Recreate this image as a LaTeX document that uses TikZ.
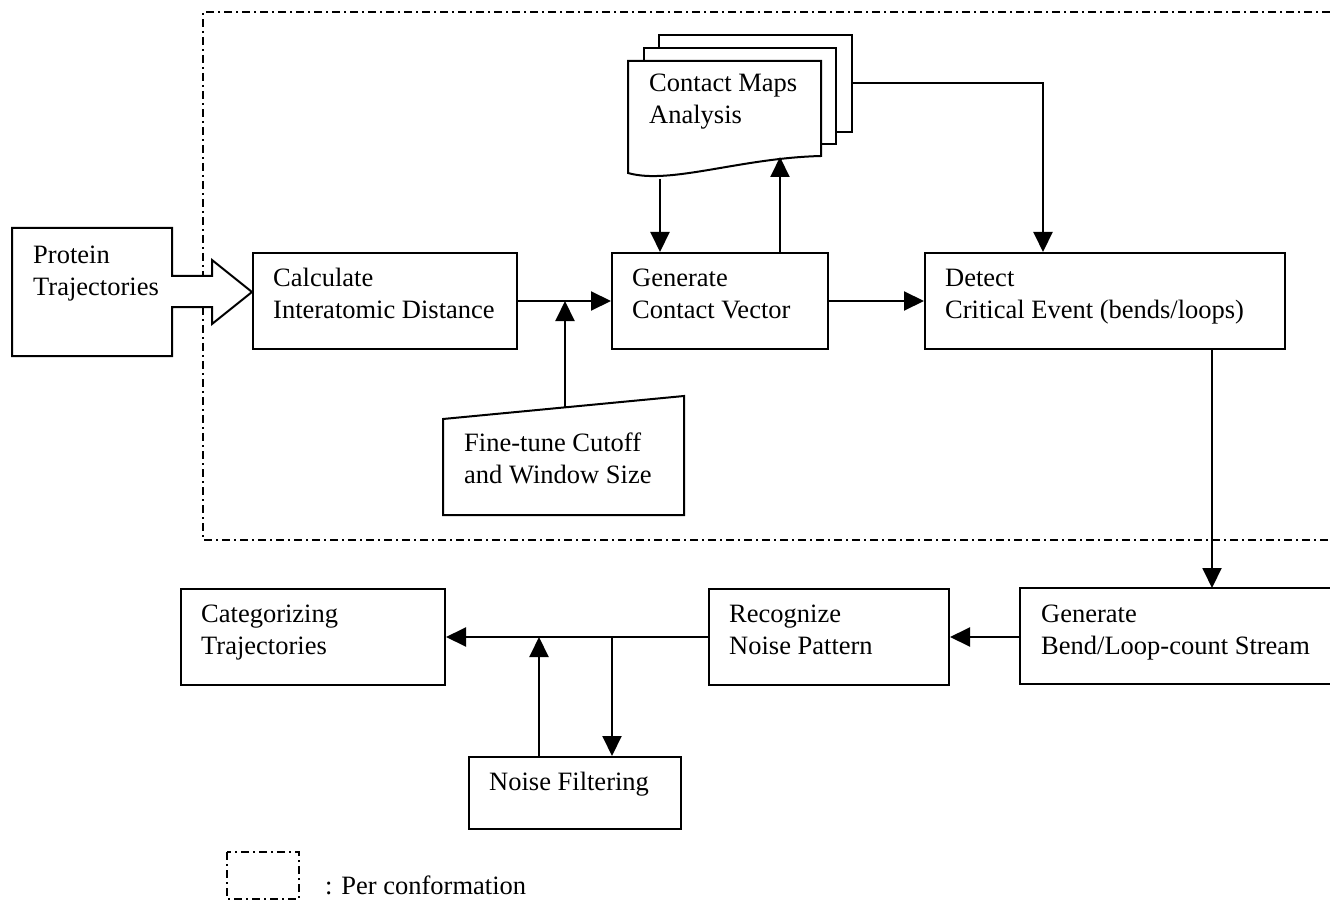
\documentclass[tikz,border=0pt]{standalone}
\usepackage{fontspec}
\setmainfont{Liberation Serif}
\usetikzlibrary{arrows.meta}
\begin{document}
\begin{tikzpicture}[x=1pt,y=-1pt,
  ln/.style={line width=2pt, line join=miter},
  blk/.style={draw, line width=2pt, inner sep=0pt, anchor=north west},
  txt/.style={anchor=base west, inner sep=0pt, align=left, font=\fontsize{26.5}{32}\selectfont},
  txtb/.style={txt, yshift=-32pt},
  arr/.style={line width=2pt, -{Triangle[length=20pt,width=19pt]}},
  dd/.style={line width=2pt, dash pattern=on 8pt off 4pt on 2pt off 4pt}]
\useasboundingbox (0,0) rectangle (1330,901);

% per-conformation region (open to the right)
\draw[dd] (1330,12) -- (203,12) -- (203,540) -- (1330,540);

% input arrow
\draw[ln, fill=white] (12,228) -- (172,228) -- (172,276) -- (212,276) -- (212,260) -- (252,292)
  -- (212,324) -- (212,307) -- (172,307) -- (172,356) -- (12,356) -- cycle;
\node[txtb] (prot) at (33,263) {Protein\\Trajectories};

% process boxes
\node[blk, minimum width=264pt, minimum height=96pt] (calc) at (252,252) {};
\node[txtb] (calct) at ([shift={(21,34)}]calc.north west) {Calculate\\Interatomic Distance};
\node[blk, minimum width=216pt, minimum height=96pt] (gen) at (611,252) {};
\node[txtb] (gent) at ([shift={(21,34)}]gen.north west) {Generate\\Contact Vector};
\node[blk, minimum width=360pt, minimum height=96pt] (det) at (924,252) {};
\node[txtb] (dett) at ([shift={(21,34)}]det.north west) {Detect\\Critical Event (bends/loops)};
\node[blk, minimum width=240pt, minimum height=96pt] (rec) at (708,588) {};
\node[txtb] (rect) at ([shift={(21,34)}]rec.north west) {Recognize\\Noise Pattern};
\node[blk, minimum width=264pt, minimum height=96pt] (cat) at (180,588) {};
\node[txtb] (catt) at ([shift={(21,34)}]cat.north west) {Categorizing\\Trajectories};
\node[blk, minimum width=212pt, minimum height=72pt] (nf) at (468,756) {};
\node[txt] (nft) at ([shift={(21,34)}]nf.north west) {Noise Filtering};

% box running off the right edge
\coordinate (bendnw) at (1020,588);
\coordinate (bendsw) at (1020,684);
\draw[ln] (1330,588) -- (bendnw) -- (bendsw) -- (1330,684);
\node[txtb] (bendt) at ([shift={(21,34)}]bendnw) {Generate\\Bend/Loop-count Stream};

% contact maps (multi-document)
\draw[ln] (659,48) -- (659,35) -- (852,35) -- (852,132) -- (836,132);
\draw[ln] (644,61) -- (644,48) -- (836,48) -- (836,144) -- (821,144);
\draw[ln, fill=white] (628,61) -- (821,61) -- (821,156)
  .. controls (740,158) and (670,185) .. (628,173) -- cycle;
\node[txtb] (mapst) at (649,92) {Contact Maps\\Analysis};
\coordinate (mapdown) at (660,179);
\coordinate (mapup) at (780,157);
\coordinate (mapout) at (852,83);

% manual input
\draw[ln] (443,419) -- (684,396) -- (684,515) -- (443,515) -- cycle;
\node[txtb] (ftt) at (464,451) {Fine-tune Cutoff\\and Window Size};
\coordinate (fttop) at (565,407.4);

% connectors
\draw[arr] (calc.east) -- (gen.west);
\draw[arr] (fttop) -- (fttop |- calc.east);
\draw[arr] (gen.east) -- (det.west);
\draw[arr] (mapdown) -- (mapdown |- gen.north);
\draw[arr] (mapup |- gen.north) -- (mapup);
\coordinate (detin) at ([xshift=119]det.north west);
\draw[arr] (mapout) -| (detin);
\coordinate (detout) at ([xshift=288]det.south west);
\draw[arr] (detout) -- (detout |- bendnw);
\draw[arr] (bendnw |- rec.east) -- (rec.east);
\draw[arr] (rec.west) -- (cat.east);
\coordinate (nfup) at ([xshift=71]nf.north west);
\coordinate (nfdn) at ([xshift=144]nf.north west);
\draw[arr] (nfup) -- (nfup |- cat.east);
\draw[arr] (nfdn |- cat.east) -- (nfdn);

% legend
\draw[dd, line width=1.5pt] (227,852) rectangle (299,899);
\node[txt] (leg) at (325,894) {: Per conformation};
\end{tikzpicture}
\end{document}
